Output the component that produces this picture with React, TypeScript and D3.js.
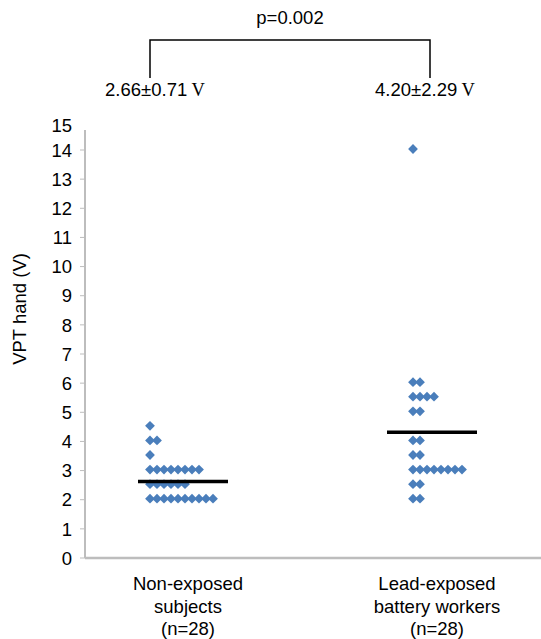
import React from "react";
import * as d3 from "d3";

const categories = ["Non-exposed", "Lead-exposed"];
const categoryLabels = [
  ["Non-exposed", "subjects", "(n=28)"],
  ["Lead-exposed", "battery workers", "(n=28)"],
];
const nonExposedValues = [4.5, 4, 4, 3.5, 3, 3, 3, 3, 3, 3, 3, 3, 2.5, 2.5, 2.5, 2.5, 2.5, 2.5, 2, 2, 2, 2, 2, 2, 2, 2, 2, 2];
const leadExposedValues = [14, 6, 6, 5.5, 5.5, 5.5, 5.5, 5, 5, 4, 4, 3.5, 3.5, 3, 3, 3, 3, 3, 3, 3, 3, 2.5, 2.5, 2, 2];
const meanLineValues = [2.66, 4.35];
const meanLabels = ["2.66\u00b10.71", "4.20\u00b12.29"];
const pValueLabel = "p=0.002";
const yTicks = [0, 1, 2, 3, 4, 5, 6, 7, 8, 9, 10, 11, 12, 13, 14];
const yTopLabel = 15;

const W = 541;
const H = 639;
const FONT = "'Liberation Sans', Arial, sans-serif";
const BLUE = "#4a7ebb";
const AXIS = "#bdbdbd";

export default function App() {
  const y = d3.scaleLinear().domain([0, 14]).range([558, 150]);
  const x = d3.scalePoint<string>().domain(categories).range([184, 433]);
  const axisLeft = 85;
  const axisRight = 541;
  const axisTop = y(14.69);
  const groups = [nonExposedValues, leadExposedValues];
  const startOffsets = [-34, -20];
  const step = 7;
  const diamond = d3.symbol().type(d3.symbolSquare).size(48)();

  const points: { cx: number; cy: number; key: string }[] = [];
  groups.forEach((vals, gi) => {
    const counts = new Map<number, number>();
    vals.forEach((v, i) => {
      const k = counts.get(v) ?? 0;
      counts.set(v, k + 1);
      points.push({
        cx: (x(categories[gi]) as number) + startOffsets[gi] + k * step,
        cy: y(v) - 1,
        key: `${gi}-${i}`,
      });
    });
  });

  const c0 = x(categories[0]) as number;
  const c1 = x(categories[1]) as number;
  const bracketY = 40;
  const bracketBottom = 78;
  const bx0 = c0 - 34;
  const bx1 = c1 - 3;

  return (
    <svg width={W} height={H} style={{ position: "absolute", left: 0, top: 0, background: "#fff" }} fontFamily={FONT}>
      {/* top annotation */}
      <text x={(bx0 + bx1) / 2} y={24} fontSize={18.5} textAnchor="middle" fill="#000">{pValueLabel}</text>
      <path d={`M${bx0},${bracketBottom}V${bracketY}H${bx1}V${bracketBottom}`} fill="none" stroke="#000" strokeWidth={1.5} />
      {meanLabels.map((m, i) => (
        <text key={m} x={[155, 425][i]} y={96} fontSize={18.5} textAnchor="middle" fill="#000">
          {m}
          <tspan fontFamily="'Liberation Serif', 'Times New Roman', serif"> V</tspan>
        </text>
      ))}

      {/* y axis */}
      <line x1={axisLeft} x2={axisLeft} y1={axisTop} y2={y(0)} stroke={AXIS} strokeWidth={2} />
      {yTicks.map((t) => (
        <g key={t}>
          <line x1={axisLeft - 5} x2={axisLeft} y1={y(t)} y2={y(t)} stroke={AXIS} strokeWidth={1} />
          <text x={72} y={y(t)} dy="0.36em" fontSize={18.5} textAnchor="end" fill="#000">{t}</text>
        </g>
      ))}
      <text x={72} y={y(14.85)} dy="0.36em" fontSize={18.5} textAnchor="end" fill="#000">{yTopLabel}</text>
      <text transform={`translate(26,${(axisTop + y(0)) / 2 - 35}) rotate(-90)`} fontSize={18.5} textAnchor="middle" fill="#000">
        VPT hand (V)
      </text>

      {/* x axis */}
      <line x1={axisLeft} x2={axisRight} y1={y(0)} y2={y(0)} stroke={AXIS} strokeWidth={2.5} />
      {categoryLabels.map((lines, gi) => (
        <text key={gi} x={(x(categories[gi]) as number) + 4} y={590} fontSize={18.5} textAnchor="middle" fill="#000">
          {lines.map((l, li) => (
            <tspan key={li} x={(x(categories[gi]) as number) + 4} dy={li === 0 ? 0 : 22.5}>{l}</tspan>
          ))}
        </text>
      ))}

      {/* points */}
      {points.map((p) => (
        <path key={p.key} d={diamond} transform={`translate(${p.cx},${p.cy}) rotate(45)`} fill={BLUE} />
      ))}

      {/* mean lines */}
      {meanLineValues.map((m, i) => {
        const c = x(categories[i]) as number;
        return <line key={i} x1={c - 46} x2={c + 44} y1={y(m) + 1} y2={y(m) + 1} stroke="#000" strokeWidth={3.5} />;
      })}
    </svg>
  );
}
